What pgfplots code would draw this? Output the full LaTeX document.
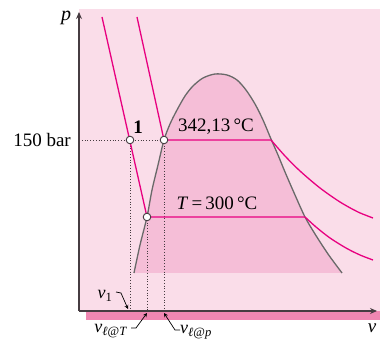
\documentclass[border=0pt]{standalone}
\usepackage{pgfplots}
\pgfplotsset{compat=1.18}
\usepackage{fontspec}
\setmainfont{Liberation Serif}
\usetikzlibrary{arrows.meta}
\definecolor{bgpink}{RGB}{250,221,233}
\definecolor{domepink}{RGB}{245,190,215}
\definecolor{strippink}{RGB}{240,135,178}
\definecolor{mag}{RGB}{232,0,128}
\definecolor{domegray}{RGB}{105,105,105}
\definecolor{axgray}{RGB}{70,60,65}
\begin{document}
\begin{tikzpicture}
\begin{axis}[
  width=380pt, height=339pt, scale only axis,
  xmin=0, xmax=380, ymin=0, ymax=339,
  hide axis, clip=false,
]
\path (axis cs:0,0) rectangle (axis cs:380,339);
% backgrounds
\addplot[fill=bgpink, draw=none] coordinates {(79,28) (380,28) (380,330) (79,330)} -- cycle;
\addplot[fill=strippink, draw=none] coordinates {(86,19) (380,19) (380,27.5) (86,27.5)} -- cycle;
% dome fill
\addplot[fill=domepink, draw=none, smooth, tension=0.5] coordinates {
 (134,66) (140,94) (147,122) (152,149) (158,174) (164,199) (170,215) (177,229) (185,243) (193,253) (203,261) (215,265) (227,264) (237,259) (246,249) (255,235) (263,219) (271,200) (278,184) (285,167) (295,144) (305,122) (315,105) (328,85) (342,66)} -- cycle;
% dotted guides
\addplot[dotted, axgray, thick] coordinates {(79,199) (164,199)};
\addplot[dotted, axgray, thick] coordinates {(130,199) (130,28)};
\addplot[dotted, axgray, thick] coordinates {(147,122) (147,28)};
\addplot[dotted, axgray, thick] coordinates {(164,199) (164,28)};
% dome curve
\addplot[domegray, line width=1.3pt, smooth, tension=0.5] coordinates {
 (134,66) (140,94) (147,122) (152,149) (158,174) (164,199) (170,215) (177,229) (185,243) (193,253) (203,261) (215,265) (227,264) (237,259) (246,249) (255,235) (263,219) (271,200) (278,184) (285,167) (295,144) (305,122) (315,105) (328,85) (342,66)};
% isotherm T = 300 C
\addplot[mag, line width=1.3pt] coordinates {(102,322) (147,122) (305,122)};
\addplot[mag, line width=1.3pt, smooth] coordinates {(305,122) (316,112) (330,101) (346,91) (360,84) (373,79)};
% isotherm 342,13 C
\addplot[mag, line width=1.3pt] coordinates {(137,322) (164,199) (271,199)};
\addplot[mag, line width=1.3pt, smooth] coordinates {(271,199) (285,183) (300,168) (320,151) (340,137) (358,127) (373,121)};
% state points
\addplot[only marks, mark=*, mark size=3.8pt, mark options={fill=white, draw=axgray, line width=0.9pt}] coordinates {(130,199) (164,199) (147,122)};
% axes
\draw[axgray, line width=1.5pt, -{Stealth[length=7pt,width=6pt]}] (axis cs:79,28) -- (axis cs:79,327);
\draw[axgray, line width=1.5pt, -{Stealth[length=7pt,width=6pt]}] (axis cs:79,28) -- (axis cs:377,28);
% labels
\node[font=\fontsize{20}{22}\selectfont\itshape] at (axis cs:66,321) {p};
\node[font=\fontsize{19}{20}\selectfont\itshape] at (axis cs:372,11) {v};
\node[font=\fontsize{19}{22}\selectfont, anchor=east, inner sep=0pt] at (axis cs:71,199) {150 bar};
\node[font=\fontsize{19}{22}\selectfont\bfseries] at (axis cs:138,212) {1};
\node[font=\fontsize{19}{22}\selectfont, fill=domepink, inner sep=1pt] at (axis cs:216,212) {342,13\,°C};
\node[font=\fontsize{19}{22}\selectfont] at (axis cs:217,136) {\textit{T}\,=\,300\,°C};
\node[font=\fontsize{18}{20}\selectfont, inner sep=0pt] at (axis cs:105,43) {\textit{v}\textsubscript{1}};
\node[font=\fontsize{18}{20}\selectfont, inner sep=0pt] at (axis cs:111,8) {\textit{v}\textsubscript{\textit{ℓ}@\textit{T}}};
\node[font=\fontsize{18}{20}\selectfont, inner sep=0pt, anchor=west] at (axis cs:180,7) {\textit{v}\textsubscript{\textit{ℓ}@\textit{p}}};
\draw[black, line width=0.7pt, -{Stealth[length=4pt,width=4pt]}] (axis cs:116,47) -- (axis cs:121,46) -- (axis cs:128,30);
\draw[black, line width=0.7pt, -{Stealth[length=4pt,width=4pt]}] (axis cs:131,11) -- (axis cs:136,11) -- (axis cs:147,26);
\draw[black, line width=0.7pt, -{Stealth[length=4pt,width=4pt]}] (axis cs:180,9) -- (axis cs:175,9) -- (axis cs:164,26);
\end{axis}
\end{tikzpicture}
\end{document}
